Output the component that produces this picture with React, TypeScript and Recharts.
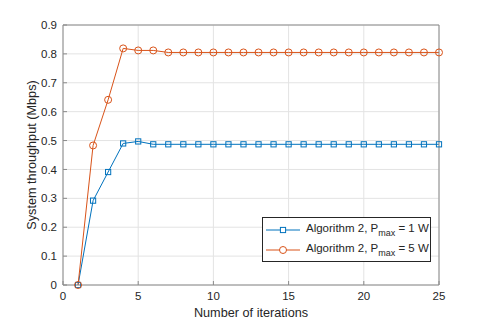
import { LineChart, Line, XAxis, YAxis, CartesianGrid, Label } from 'recharts';

const iterations = [1, 2, 3, 4, 5, 6, 7, 8, 9, 10, 11, 12, 13, 14, 15, 16, 17, 18, 19, 20, 21, 22, 23, 24, 25];
const pmax1W = [0, 0.292, 0.391, 0.49, 0.497, 0.487, 0.487, 0.487, 0.487, 0.487, 0.487, 0.487, 0.487, 0.487, 0.487, 0.487, 0.487, 0.487, 0.487, 0.487, 0.487, 0.487, 0.487, 0.487, 0.487];
const pmax5W = [0, 0.483, 0.641, 0.819, 0.812, 0.812, 0.805, 0.805, 0.805, 0.805, 0.805, 0.805, 0.805, 0.805, 0.805, 0.805, 0.805, 0.805, 0.805, 0.805, 0.805, 0.805, 0.805, 0.805, 0.805];
const xTicks = [0, 5, 10, 15, 20, 25];
const yTicks = [0, 0.1, 0.2, 0.3, 0.4, 0.5, 0.6, 0.7, 0.8, 0.9];

const data = iterations.map((it, i) => ({ it, a: pmax1W[i], b: pmax5W[i] }));

const BLUE = '#0072BD';
const ORANGE = '#D95319';
const AXIS = '#8a8a8a';
const TEXT = '#262626';
const FONT = 'Liberation Sans, Arial, sans-serif';

function SquareDot(props: any) {
  const { cx, cy } = props;
  if (cx == null || cy == null) return null;
  return <rect x={cx - 2.6} y={cy - 2.6} width={5.2} height={5.2} fill="none" stroke={BLUE} strokeWidth={1} />;
}

function CircleDot(props: any) {
  const { cx, cy } = props;
  if (cx == null || cy == null) return null;
  return <circle cx={cx} cy={cy} r={3.5} fill="none" stroke={ORANGE} strokeWidth={1} />;
}

function LegendBox() {
  const rows = [
    { color: BLUE, marker: 'square', w: '1 W' },
    { color: ORANGE, marker: 'circle', w: '5 W' },
  ];
  return (
    <div style={{ position: 'absolute', left: 262, top: 217, border: `1px solid ${TEXT}`, background: '#fff', width: 169, height: 45, boxSizing: 'border-box', padding: '2px 0 0 3px', fontFamily: FONT, fontSize: 11.5, color: TEXT }}>
      {rows.map((r) => (
        <div key={r.w} style={{ display: 'flex', alignItems: 'center', height: 20 }}>
          <svg width={36} height={12} style={{ marginRight: 4 }}>
            <line x1={0} y1={6} x2={34} y2={6} stroke={r.color} strokeWidth={1} />
            {r.marker === 'square'
              ? <rect x={14.4} y={3.4} width={5.2} height={5.2} fill="#fff" stroke={r.color} />
              : <circle cx={17} cy={6} r={3.5} fill="#fff" stroke={r.color} />}
          </svg>
          <span style={{ whiteSpace: 'nowrap' }}>
            Algorithm 2, P<sub style={{ fontSize: 9, verticalAlign: -4 }}>max</sub> = {r.w}
          </span>
        </div>
      ))}
    </div>
  );
}

export default function App() {
  const tickStyle = { fill: TEXT, fontSize: 11.5, fontFamily: FONT };
  return (
    <div style={{ position: 'absolute', left: 0, top: 0, width: 485, height: 322, background: '#fff' }}>
      <LineChart width={485} height={322} data={data} margin={{ top: 24, right: 45, left: 3, bottom: 7 }}>
        <CartesianGrid xAxisId="b" yAxisId="l" stroke="#e3e3e3" strokeWidth={1} />
        <XAxis xAxisId="b" dataKey="it" type="number" domain={[0, 25]} ticks={xTicks} height={30}
          stroke={AXIS} tick={tickStyle} tickSize={-4} tickMargin={11}>
          <Label content={({ viewBox }: any) => (
            <text x={viewBox.x + viewBox.width / 2} y={viewBox.y + 32} textAnchor="middle" fill={TEXT} fontSize={12.7} fontFamily={FONT}>
              Number of iterations
            </text>
          )} />
        </XAxis>
        <XAxis xAxisId="t" orientation="top" dataKey="it" type="number" domain={[0, 25]} ticks={xTicks} height={1}
          stroke={AXIS} tick={false} tickSize={-4} />
        <YAxis yAxisId="l" type="number" domain={[0, 0.9]} ticks={yTicks} width={60}
          stroke={AXIS} tick={tickStyle} tickSize={-4} tickMargin={10}>
          <Label content={({ viewBox }: any) => (
            <text x={32} y={viewBox.y + viewBox.height / 2} transform={`rotate(-90 32 ${viewBox.y + viewBox.height / 2})`}
              textAnchor="middle" dominantBaseline="central" fill={TEXT} fontSize={12.7} fontFamily={FONT}>
              System throughput (Mbps)
            </text>
          )} />
        </YAxis>
        <YAxis yAxisId="r" orientation="right" type="number" domain={[0, 0.9]} ticks={yTicks} width={1}
          stroke={AXIS} tick={false} tickSize={-4} />
        <Line xAxisId="b" yAxisId="l" dataKey="a" stroke={BLUE} strokeWidth={1} dot={<SquareDot />} activeDot={false} isAnimationActive={false} />
        <Line xAxisId="b" yAxisId="l" dataKey="b" stroke={ORANGE} strokeWidth={1} dot={<CircleDot />} activeDot={false} isAnimationActive={false} />
      </LineChart>
      <LegendBox />
    </div>
  );
}
